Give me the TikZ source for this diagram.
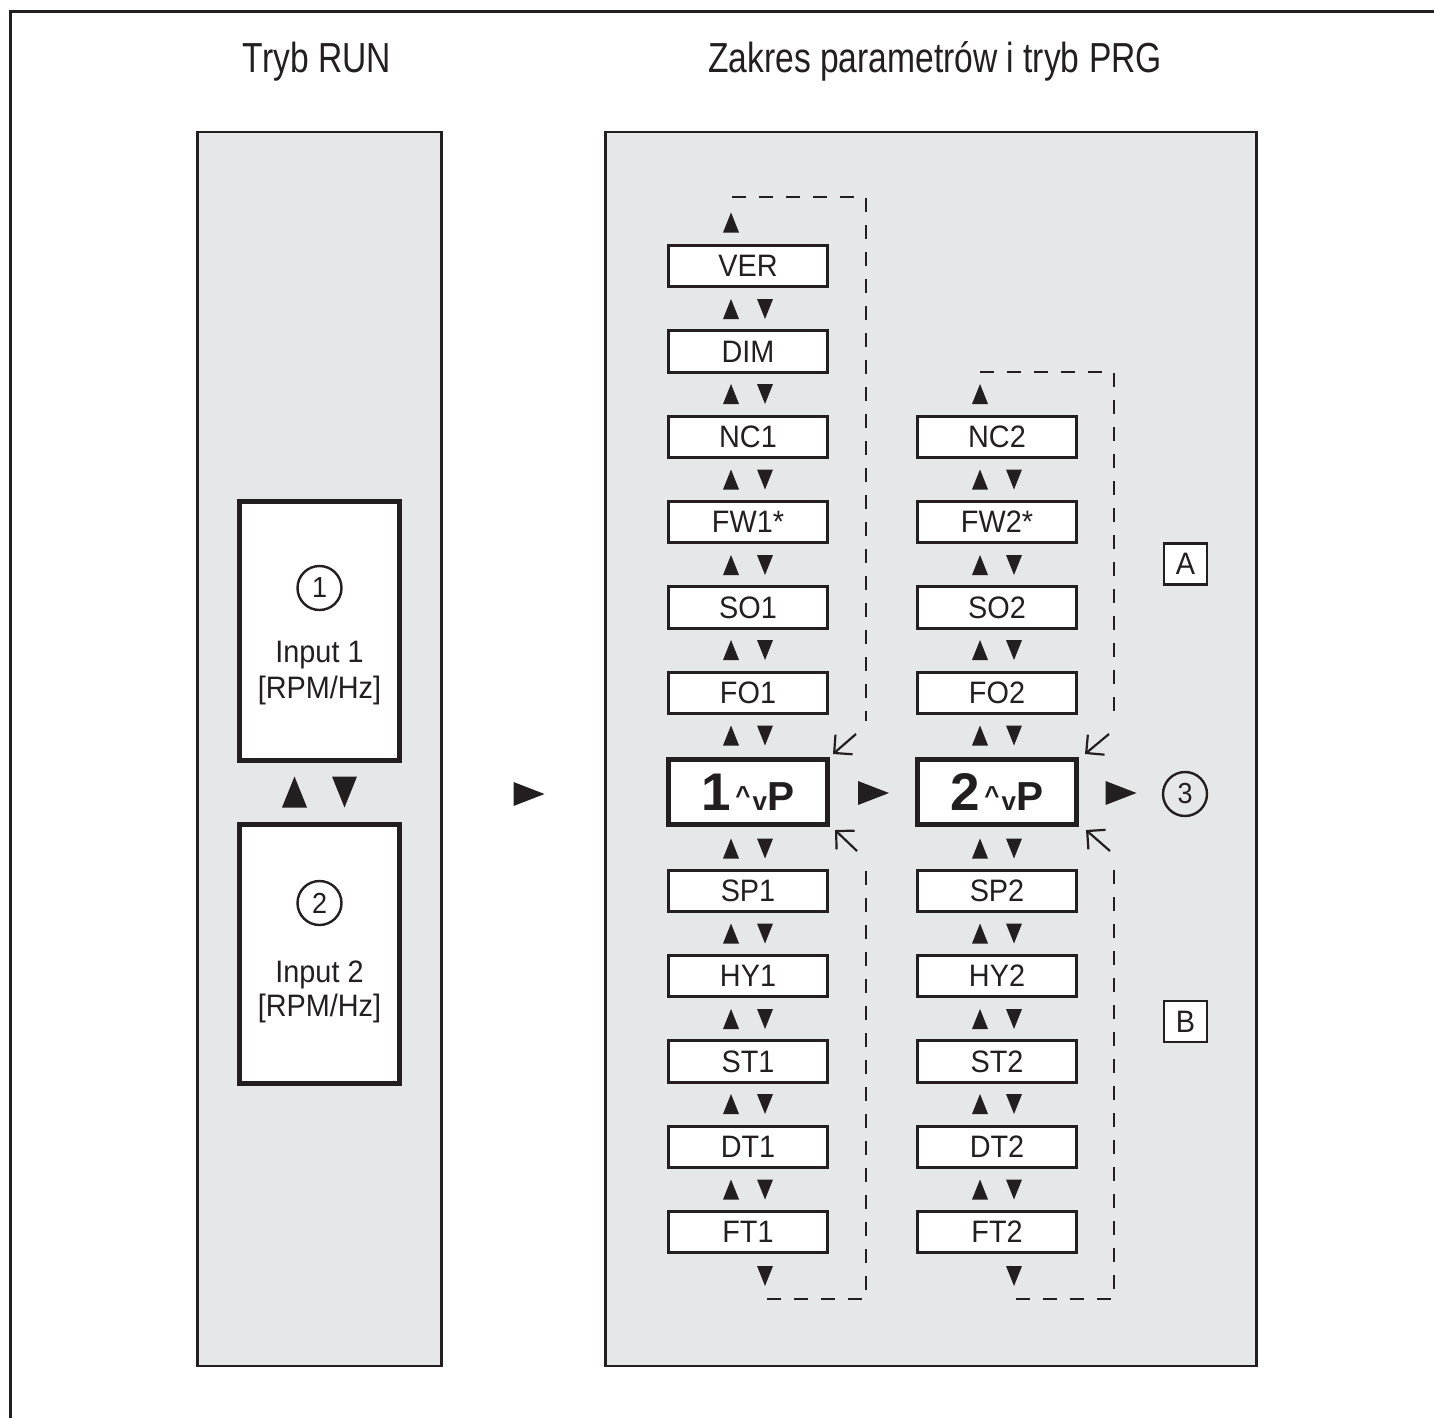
\documentclass[tikz,border=0pt]{standalone}
\usepackage{fontspec}
\setmainfont{Liberation Sans}[FakeStretch=0.93]
\newfontfamily\headfont{Liberation Sans}[FakeStretch=0.8]
\newfontfamily\menufont{Liberation Sans}
\usetikzlibrary{arrows.meta}

\definecolor{ink}{HTML}{231F20}
\definecolor{panelgray}{HTML}{E6E7E8}

\tikzset{
  panel/.style={draw=ink, fill=panelgray, line width=2.5pt},
  heading/.style={anchor=base, text=ink, font=\headfont\fontsize{42pt}{42pt}\selectfont},
  inputbox/.style={draw=ink, fill=white, line width=5pt, minimum width=160pt, minimum height=259pt, inner sep=0pt},
  parbox/.style={draw=ink, fill=white, line width=2.6pt, minimum width=159pt, minimum height=41.5pt, inner sep=0pt,
                 text=ink, font=\fontsize{31pt}{31pt}\selectfont},
  menubox/.style={draw=ink, fill=white, line width=5pt, minimum width=159pt, minimum height=65pt, inner sep=0pt, text=ink},
  tagbox/.style={draw=ink, fill=white, line width=2.2pt, minimum width=43pt, minimum height=41pt, inner sep=0pt,
                 text=ink, font=\fontsize{31pt}{31pt}\selectfont},
  numcircle/.style={draw=ink, circle, line width=2.4pt, minimum size=44pt, inner sep=0pt,
                    text=ink, font=\fontsize{29pt}{29pt}\selectfont},
  intext/.style={anchor=base, text=ink, font=\fontsize{31pt}{31pt}\selectfont},
  loopline/.style={draw=ink, line width=2.4pt, dash pattern=on 14pt off 13pt},
  jumparrow/.style={draw=ink, line width=2.2pt, -{Straight Barb[length=13pt, width=26pt, line width=2.2pt]}},
  % filled arrow heads
  up/.pic={\fill[ink] (-8,10) -- (8,10) -- (0,-10) -- cycle;},
  dn/.pic={\fill[ink] (-8,-10) -- (8,-10) -- (0,10) -- cycle;},
  upanddn/.pic={\fill[ink] (-25,10) -- (-9,10) -- (-17,-10) -- cycle;
                \fill[ink] (9,-10) -- (25,-10) -- (17,10) -- cycle;},
  bigup/.pic={\fill[ink] (-12.5,15.5) -- (12.5,15.5) -- (0,-15.5) -- cycle;},
  bigdn/.pic={\fill[ink] (-12.5,-15.5) -- (12.5,-15.5) -- (0,15.5) -- cycle;},
  rt/.pic={\fill[ink] (-15.5,-12) -- (-15.5,12) -- (15.5,0) -- cycle;},
}

% menu entry label: digit, scroll marks and P
\newcommand{\menulabel}[1]{\menufont\bfseries
  {\fontsize{53pt}{53pt}\selectfont #1}\hspace{4pt}%
  {\fontsize{26pt}{26pt}\selectfont\raisebox{6pt}{\textasciicircum}\hspace{2pt}v}%
  {\fontsize{40.5pt}{40.5pt}\selectfont P}}

\begin{document}
\begin{tikzpicture}[x=1pt, y=-1pt]
  \useasboundingbox (0,0) rectangle (1434,1418);
  \fill[white] (0,0) rectangle (1434,1418);

  % outer frame, open to the right and bottom
  \draw[ink, line width=3pt] (10,1418) -- (10,11.5) -- (1434,11.5);

  % headings
  \node[heading] (hrun) at (317,73) {Tryb RUN};
  \node[heading] (hprg) at (935,73) {Zakres parametrów i tryb PRG};

  % panels
  \draw[panel] (197.5,132) rectangle (441.5,1366);
  \draw[panel] (605.5,132) rectangle (1256.5,1366);

  % RUN mode displays
  \node[inputbox] (in1) at (319.5,630.5) {};
  \node[inputbox] (in2) at (319.5,953.5) {};
  \node[numcircle] (c1) at (319.5,588) {1};
  \node[intext] (t1a) at (319.5,662.5) {Input 1};
  \node[intext] (t1b) at (319.5,698) {[RPM/Hz]};
  \node[numcircle] (c2) at (319.5,903) {2};
  \node[intext] (t2a) at (319.5,982) {Input 2};
  \node[intext] (t2b) at (319.5,1016) {[RPM/Hz]};
  \pic at (294.5,792) {bigup};
  \pic at (344.5,792) {bigdn};

  % transition into the parameter range
  \pic at (529,794) {rt};

  % column 1
  \foreach \lab/\yy/\nm in {VER/266/a1, DIM/351.5/a2, NC1/437/a3, FW1*/522/a4, SO1/607.5/a5, FO1/693/a6,
                           SP1/891/b1, HY1/976/b2, ST1/1061.5/b3, DT1/1147/b4, FT1/1232/b5}
    \node[parbox] (\nm) at (748,\yy) {\lab};
  \node[menubox] (m1) at (748,792) {\menulabel{1}};

  % column 2
  \foreach \lab/\yy/\nm in {NC2/437/d3, FW2*/522/d4, SO2/607.5/d5, FO2/693/d6,
                           SP2/891/e1, HY2/976/e2, ST2/1061.5/e3, DT2/1147/e4, FT2/1232/e5}
    \node[parbox] (\nm) at (997,\yy) {\lab};
  \node[menubox] (m2) at (997,792) {\menulabel{2}};

  % up/down steps between the entries
  \foreach \yy in {309, 394, 479.5, 565, 650, 735.5, 848.5, 933.5, 1019, 1104, 1189.5}
    \pic at (748,\yy) {upanddn};
  \foreach \yy in {479.5, 565, 650, 735.5, 848.5, 933.5, 1019, 1104, 1189.5}
    \pic at (997,\yy) {upanddn};
  \pic at (731,222.5) {up};
  \pic at (765,1276) {dn};
  \pic at (980,394) {up};
  \pic at (1014,1276) {dn};

  % wrap-around loops of column 1
  \coordinate (p1a) at (732,197);
  \coordinate (p1b) at (866,197);
  \coordinate (p1c) at (866,721);
  \coordinate (p1d) at (856,734);
  \coordinate (q1a) at (767,1299);
  \coordinate (q1b) at (866,1299);
  \coordinate (q1c) at (866,858);
  \coordinate (q1d) at (857,851);
  \draw[loopline] (p1a) -- (p1b) -- (p1c);
  \draw[loopline] (q1a) -- (q1b) -- (q1c);
  \draw[jumparrow] (p1d) -- ([shift={(3,-3)}]m1.north east);
  \draw[jumparrow] (q1d) -- ([shift={(5,3)}]m1.south east);

  % wrap-around loops of column 2
  \coordinate (p2a) at (980,372);
  \coordinate (p2b) at (1114,372);
  \coordinate (p2c) at (1114,721);
  \coordinate (p2d) at (1109,734);
  \coordinate (q2a) at (1016,1299);
  \coordinate (q2b) at (1114,1299);
  \coordinate (q2c) at (1114,858);
  \coordinate (q2d) at (1110,851);
  \draw[loopline] (p2a) -- (p2b) -- (p2c);
  \draw[loopline] (q2a) -- (q2b) -- (q2c);
  \draw[jumparrow] (p2d) -- ([shift={(6,-3)}]m2.north east);
  \draw[jumparrow] (q2d) -- ([shift={(7,3)}]m2.south east);

  % steps between the two menus and to the end
  \pic at (873.5,793) {rt};
  \pic at (1121,793) {rt};
  \node[numcircle] (c3) at (1185,794) {3};

  % section tags
  \node[tagbox] (tagA) at (1185.5,564) {A};
  \node[tagbox] (tagB) at (1185.5,1021.5) {B};
\end{tikzpicture}
\end{document}
